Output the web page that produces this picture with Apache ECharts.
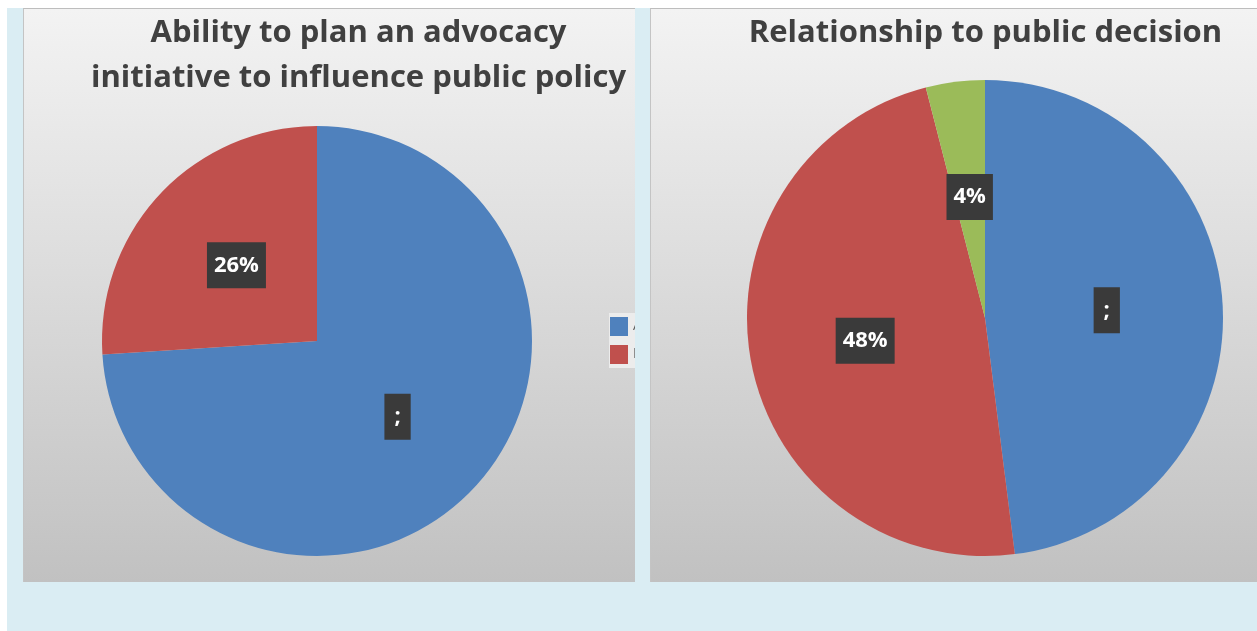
<!DOCTYPE html>
<html><head><meta charset="utf-8">
<script src="https://cdn.jsdelivr.net/npm/echarts@6/dist/echarts.min.js"></script>
<style>
html,body{margin:0;padding:0;background:#fff;width:1257px;height:631px;overflow:hidden;}
#bg{position:absolute;left:7px;top:8px;width:1250px;height:623px;background:#daedf3;}
.panel{position:absolute;top:8px;height:574px;background:linear-gradient(to bottom,#f3f3f3 0%,#c1c1c1 100%);box-sizing:border-box;border-top:1px solid #bdbdbd;border-left:1px solid #c4c4c4;}
#p1{left:23px;width:612px;}
#p2{left:650px;width:607px;}
</style></head>
<body>
<div id="bg"></div>
<div class="panel" id="p1"></div>
<div class="panel" id="p2"></div>
<script>
const title1 = "Ability to plan an advocacy\ninitiative to influence public policy";
const categories1 = ["Able", "Not able"];
const values1 = [74, 26];
const labels1 = [";", "26%"];

const title2 = "Relationship to public decision";
const categories2 = ["Close", "Distant", "None"];
const values2 = [48, 48, 4];
const labels2 = [";", "48%", "4%"];

const colors = ["#4f81bd", "#c0504d", "#9bbb59"];
const FONT = "Open Sans";

function labelStyle(texts){
  return {
    show: true, position: 'inside',
    formatter: p => texts[p.dataIndex],
    color: '#ffffff', fontFamily: FONT, fontWeight: 'bold', fontSize: 22,
    backgroundColor: '#3a3a3a', padding: [11, 7, 11, 7], lineHeight: 24
  };
}
function items(cats, vals, texts){
  return cats.map((n, i) => ({
    name: n, value: vals[i],
    label: texts[i].length < 2 ? {padding: [11, 10, 11, 10]} : {}
  }));
}
const titleStyle = {fontFamily: FONT, fontWeight: 'bold', fontSize: 31, color: '#404040', lineHeight: 45};

const c1 = echarts.init(document.getElementById('p1'), null, {renderer:'canvas'});
c1.setOption({
  animation: false,
  color: colors,
  title: {text: title1, left: 334.5, top: 2, padding: 0, textAlign: 'center', textStyle: titleStyle},
  legend: {orient: 'vertical', left: 585, top: 304, itemWidth: 18, itemHeight: 19, itemGap: 9,
    padding: [4, 20, 4, 1], backgroundColor: '#ececec', icon: 'rect',
    data: categories1,
    textStyle: {fontFamily: FONT, fontSize: 14, color: '#595959'}},
  series: [{
    type: 'pie', center: [293, 332], radius: 215, startAngle: 90, clockwise: true,
    label: labelStyle(labels1), labelLine: {show: false},
    itemStyle: {borderWidth: 0},
    emphasis: {disabled: true},
    data: items(categories1, values1, labels1)
  }]
});

const c2 = echarts.init(document.getElementById('p2'), null, {renderer:'canvas'});
c2.setOption({
  animation: false,
  color: colors,
  title: {text: title2, left: 334.5, top: 2, padding: 0, textAlign: 'center', textStyle: titleStyle},
  series: [{
    type: 'pie', center: [334, 309], radius: 238, startAngle: 90, clockwise: true,
    label: labelStyle(labels2), labelLine: {show: false},
    itemStyle: {borderWidth: 0},
    emphasis: {disabled: true},
    data: items(categories2, values2, labels2)
  }]
});
</script>
</body></html>
